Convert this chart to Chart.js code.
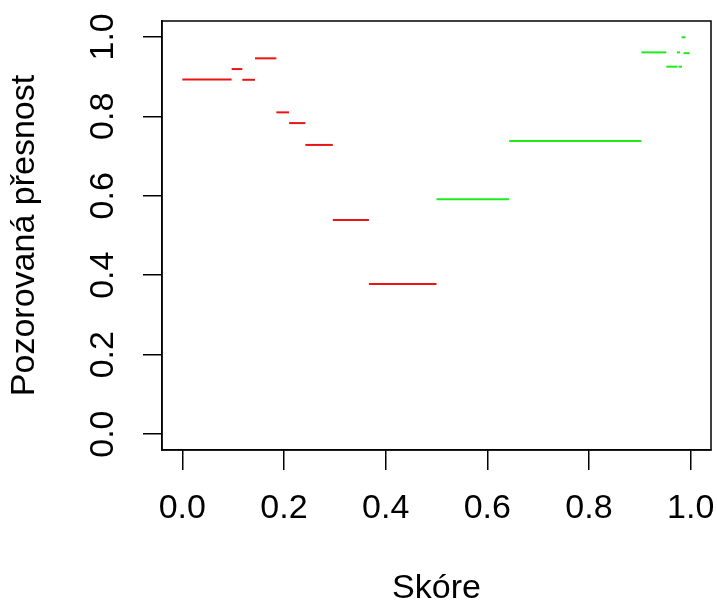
<!DOCTYPE html>
<html>
<head>
<meta charset="utf-8">
<script src="https://cdn.jsdelivr.net/npm/chart.js@4.4.1/dist/chart.umd.min.js"></script>
<style>
  body { margin: 0; background: #fff; }
  canvas { display: block; }
</style>
</head>
<body>
<canvas id="c" width="717" height="606"></canvas>
<script>
// bins: score range [binStart, binEnd] and observed accuracy
const binStart = [0.000, 0.097, 0.118, 0.143, 0.185, 0.210, 0.242, 0.296, 0.367,
                  0.500, 0.643, 0.903, 0.952, 0.976, 0.973, 0.986, 0.982];
const binEnd   = [0.097, 0.118, 0.143, 0.185, 0.210, 0.242, 0.296, 0.367, 0.500,
                  0.643, 0.903, 0.952, 0.974, 0.983, 0.979, 0.998, 0.990];
const observed = [0.893, 0.919, 0.892, 0.946, 0.810, 0.783, 0.728, 0.539, 0.378,
                  0.591, 0.738, 0.961, 0.925, 0.925, 0.961, 0.959, 0.999];
const group    = ['neg', 'neg', 'neg', 'neg', 'neg', 'neg', 'neg', 'neg', 'neg',
                  'pos', 'pos', 'pos', 'pos', 'pos', 'pos', 'pos', 'pos'];

const xTicks = [0, 0.2, 0.4, 0.6, 0.8, 1.0];
const yTicks = [0, 0.2, 0.4, 0.6, 0.8, 1.0];

const colors = { neg: 'rgb(235,20,20)', pos: 'rgb(30,235,30)' };
const FONT = 'Liberation Sans, Arial, sans-serif';

const datasets = observed.map((y, i) => ({
  data: [{ x: binStart[i], y: y }, { x: binEnd[i], y: y }],
  borderColor: colors[group[i]],
  borderWidth: 2,
  pointRadius: 0,
  showLine: true,
  fill: false
}));

// box around plot region + rotated y tick labels (R style)
const rStyle = {
  id: 'rStyle',
  afterDraw(chart) {
    const { ctx, chartArea: a } = chart;
    const ys = chart.scales.y;
    ctx.save();
    ctx.strokeStyle = '#000';
    ctx.lineWidth = 1.5;
    ctx.strokeRect(a.left, a.top, a.right - a.left, a.bottom - a.top);
    ctx.fillStyle = '#000';
    ctx.font = '34px ' + FONT;
    ctx.textAlign = 'center';
    ctx.textBaseline = 'middle';
    yTicks.forEach(v => {
      ctx.save();
      ctx.translate(104, ys.getPixelForValue(v));
      ctx.rotate(-Math.PI / 2);
      ctx.fillText(v.toFixed(1), 0, 0);
      ctx.restore();
    });
    ctx.restore();
  }
};

new Chart(document.getElementById('c'), {
  type: 'scatter',
  data: { datasets },
  options: {
    responsive: false,
    animation: false,
    layout: { padding: { top: 21, right: 6, left: 0, bottom: 0 } },
    plugins: { legend: { display: false }, tooltip: { enabled: false } },
    scales: {
      x: {
        type: 'linear',
        min: -0.04,
        max: 1.04,
        afterBuildTicks: s => { s.ticks = xTicks.map(v => ({ value: v })); },
        afterFit: s => { s.height = 156; s.paddingLeft = 0; s.paddingRight = 0; },
        ticks: {
          color: '#000',
          padding: 18,
          font: { family: FONT, size: 34 },
          callback: v => v.toFixed(1)
        },
        grid: { drawOnChartArea: false, drawTicks: true, tickLength: 20, color: '#000', lineWidth: 1.5 },
        border: { display: true, color: '#000', width: 1.5 },
        title: {
          display: true,
          text: 'Skóre',
          color: '#000',
          font: { family: FONT, size: 34, lineHeight: 1 },
          padding: { top: 0, bottom: 0 }
        }
      },
      y: {
        type: 'linear',
        min: -0.04,
        max: 1.04,
        afterBuildTicks: s => { s.ticks = yTicks.map(v => ({ value: v })); },
        afterFit: s => { s.width = 162; s.paddingTop = 0; s.paddingBottom = 0; },
        ticks: {
          color: 'rgba(0,0,0,0)',
          font: { family: FONT, size: 34 },
          callback: v => v.toFixed(1)
        },
        grid: { drawOnChartArea: false, drawTicks: true, tickLength: 19, color: '#000', lineWidth: 1.5 },
        border: { display: true, color: '#000', width: 1.5 },
        title: {
          display: true,
          text: 'Pozorovaná přesnost',
          color: '#000',
          font: { family: FONT, size: 34, lineHeight: 1 },
          padding: { top: 8, bottom: 0 }
        }
      }
    }
  },
  plugins: [rStyle]
});
</script>
</body>
</html>
